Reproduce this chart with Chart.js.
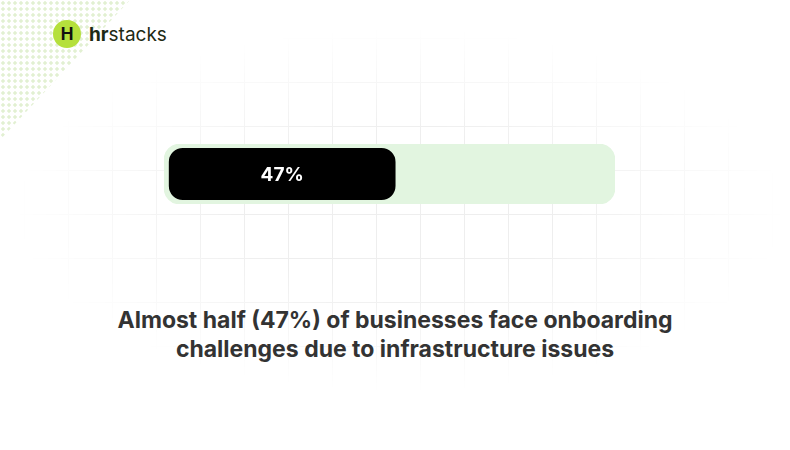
<!DOCTYPE html>
<html lang="en">
<head>
<meta charset="UTF-8">
<title>Onboarding challenges</title>
<script src="https://cdn.jsdelivr.net/npm/chart.js"></script>
<style>
    body { margin: 0; width: 790px; height: 450px; background: #fff; position: relative; overflow: hidden; font-family: Inter, "Noto Sans", sans-serif; }
    .grid { position: absolute; left: 20px; top: 30px; width: 760px; height: 360px;
        background-image: linear-gradient(#ececec 1px, transparent 1px), linear-gradient(90deg, #ececec 1px, transparent 1px);
        background-size: 44px 44px; background-position: 4px 8px;
        -webkit-mask-image: radial-gradient(ellipse at center, rgba(0,0,0,0.9) 30%, transparent 72%);
        mask-image: radial-gradient(ellipse at center, rgba(0,0,0,0.9) 30%, transparent 72%); }
    .dots { position: absolute; left: 0; top: 0; width: 130px; height: 140px;
        background-image: radial-gradient(circle, #e2f0d2 1.5px, transparent 1.8px); background-size: 6px 6px;
        clip-path: polygon(0 0, 100% 0, 0 100%); }
    .logo { position: absolute; left: 53px; top: 20px; display: flex; align-items: center; }
    .logo .c { width: 28px; height: 28px; border-radius: 50%; background: #b5e03c; color: #111; font-weight: 700; font-size: 17px; display: flex; align-items: center; justify-content: center; }
    .logo .t { margin-left: 8px; font-size: 19px; color: #1d2a14; }
    .wrap { position: absolute; left: 164px; top: 144px; width: 451px; height: 60px; }
    .title { position: absolute; left: 0; width: 790px; top: 306px; text-align: center; font-size: 23px; font-weight: 700; color: #333; line-height: 29px; }
</style>
</head>
<body>
<div class="grid"></div>
<div class="dots"></div>
<div class="logo"><div class="c">H</div><div class="t"><b>hr</b>stacks</div></div>
<div class="wrap"><canvas id="dados"></canvas></div>
<div class="title">Almost half (47%) of businesses face onboarding<br>challenges due to infrastructure issues</div>
<script>
const categorias = ['Businesses'];
const valores = [47];
const total = [100];

const rotulo = {
    id: 'rotulo',
    afterDatasetsDraw(chart) {
        const ctx = chart.ctx;
        const bar = chart.getDatasetMeta(1).data[0];
        ctx.save();
        ctx.fillStyle = '#fff';
        ctx.font = 'bold 19px Inter, "Noto Sans", sans-serif';
        ctx.textAlign = 'center';
        ctx.textBaseline = 'middle';
        ctx.fillText(valores[0] + '%', (bar.x + bar.base) / 2, bar.y + 1);
        ctx.restore();
    }
};

new Chart(document.getElementById('dados'), {
    type: 'bar',
    data: {
        labels: categorias,
        datasets: [
            { data: total, backgroundColor: '#e2f5e0', xAxisID: 'x2', borderRadius: 16, borderSkipped: false, barPercentage: 1, categoryPercentage: 1, grouped: false, order: 2 },
            { data: valores, backgroundColor: '#000', xAxisID: 'x', borderRadius: 14, borderSkipped: false, barPercentage: 0.867, categoryPercentage: 1, grouped: false, order: 1 }
        ]
    },
    options: {
        indexAxis: 'y',
        responsive: true,
        maintainAspectRatio: false,
        animation: false,
        layout: { padding: 0 },
        plugins: { legend: { display: false }, tooltip: { enabled: false } },
        scales: {
            x: { min: -1, max: 92.5, display: false },
            x2: { min: 0, max: 100, display: false },
            y: { display: false }
        }
    },
    plugins: [rotulo]
});
</script>
</body>
</html>
